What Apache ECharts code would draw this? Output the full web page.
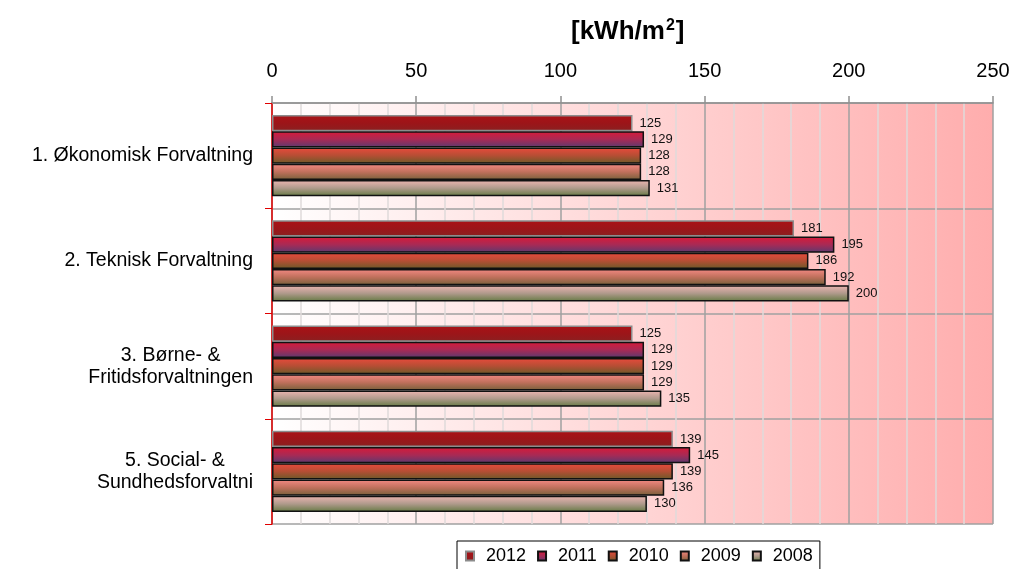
<!DOCTYPE html>
<html>
<head>
<meta charset="utf-8">
<script src="https://cdn.jsdelivr.net/npm/echarts@6/dist/echarts.min.js"></script>
<style>
  html, body { margin: 0; padding: 0; background: #ffffff; }
  #chart { width: 1013px; height: 569px; }
</style>
</head>
<body>
<div id="chart"></div>
<script>
// Energy use per square metre by administration, 2008–2012
const categories = [
  '1. Økonomisk Forvaltning',
  '2. Teknisk Forvaltning',
  '3. Børne- &\nFritidsforvaltningen',
  '5. Social- &\nSundhedsforvaltni'
];
const years = ['2012', '2011', '2010', '2009', '2008'];
const values2012 = [125, 181, 125, 139];
const values2011 = [129, 195, 129, 145];
const values2010 = [128, 186, 129, 139];
const values2009 = [128, 192, 129, 136];
const values2008 = [131, 200, 135, 130];
const xTicks = [0, 50, 100, 150, 200, 250];

const FONT = '"Liberation Sans", Arial, sans-serif';

function vgrad(top, mid, bottom) {
  return new echarts.graphic.LinearGradient(0, 0, 0, 1, [
    { offset: 0, color: top },
    { offset: 0.5, color: mid },
    { offset: 1, color: bottom }
  ]);
}

const styles = [
  { fill: vgrad('#aa1216', '#9c1519', '#8a2020'), border: '#8c8c8c' },
  { fill: vgrad('#d81a38', '#a82a55', '#5a3a70'), border: '#111111' },
  { fill: vgrad('#ea4a3c', '#b54e34', '#6a5a28'), border: '#111111' },
  { fill: vgrad('#f48a84', '#c0705c', '#76603a'), border: '#111111' },
  { fill: vgrad('#eeb6b2', '#b09a8c', '#667a44'), border: '#111111' }
];
const seriesValues = [values2012, values2011, values2010, values2009, values2008];

const series = years.map((y, i) => ({
  name: y,
  type: 'bar',
  data: seriesValues[i],
  barGap: '0%',
  barCategoryGap: '23%',
  itemStyle: {
    color: styles[i].fill,
    borderColor: styles[i].border,
    borderWidth: 1.5
  },
  label: {
    show: true,
    position: 'right',
    distance: 7,
    fontFamily: FONT,
    fontSize: 13,
    color: '#111111'
  }
}));

const chart = echarts.init(document.getElementById('chart'), null, { renderer: 'canvas' });
chart.setOption({
  animation: false,
  backgroundColor: '#ffffff',
  title: {
    text: '{a|[kWh/m}{s|2}{a|]}',
    left: 571,
    top: 18,
    padding: 0,
    textStyle: {
      rich: {
        a: { fontFamily: FONT, fontSize: 26, fontWeight: 'bold', color: '#000000' },
        s: { fontFamily: FONT, fontSize: 16, fontWeight: 'bold', color: '#000000', verticalAlign: 'top', padding: [0, 1, 12, 1] }
      }
    }
  },
  legend: {
    data: years,
    left: 457,
    top: 541,
    padding: [6, 7, 14, 8],
    itemGap: 11,
    itemWidth: 8,
    itemHeight: 9,
    icon: 'rect',
    borderColor: '#000000',
    borderWidth: 1,
    textStyle: { fontFamily: FONT, fontSize: 18, color: '#000000', padding: [0, 0, 0, 7] }
  },
  grid: {
    left: 272,
    right: 20,
    top: 103,
    bottom: 45,
    show: true,
    borderWidth: 0,
    backgroundColor: new echarts.graphic.LinearGradient(0, 0, 1, 0, [
      { offset: 0, color: '#ffffff' },
      { offset: 1, color: '#ffadad' }
    ])
  },
  xAxis: {
    type: 'value',
    position: 'top',
    min: xTicks[0],
    max: xTicks[xTicks.length - 1],
    interval: 50,
    axisLine: { show: true, lineStyle: { color: '#909090', width: 1.5 } },
    axisTick: { show: true, length: 7, lineStyle: { color: '#909090', width: 1.5 } },
    axisLabel: { margin: 22, fontFamily: FONT, fontSize: 20, color: '#000000' },
    splitLine: { show: true, lineStyle: { color: '#a0a0a0', width: 1.5 } },
    minorTick: { show: false, splitNumber: 5 },
    minorSplitLine: { show: true, lineStyle: { color: '#e0dada', width: 1.5 } }
  },
  yAxis: {
    type: 'category',
    inverse: true,
    data: categories,
    axisLine: { show: true, lineStyle: { color: '#e00000', width: 1.5 } },
    axisTick: { show: true, length: 7, lineStyle: { color: '#e00000', width: 1 } },
    splitLine: { show: true, lineStyle: { color: '#a0a0a0', width: 1.5 } },
    axisLabel: {
      margin: 19,
      align: 'right',
      formatter: v => v.split('\n').map(l => '{c|' + l + '}').join('\n'),
      rich: {
        c: { align: 'center', fontFamily: FONT, fontSize: 19.5, lineHeight: 22, color: '#000000' }
      }
    }
  },
  series: series
});
</script>
</body>
</html>
